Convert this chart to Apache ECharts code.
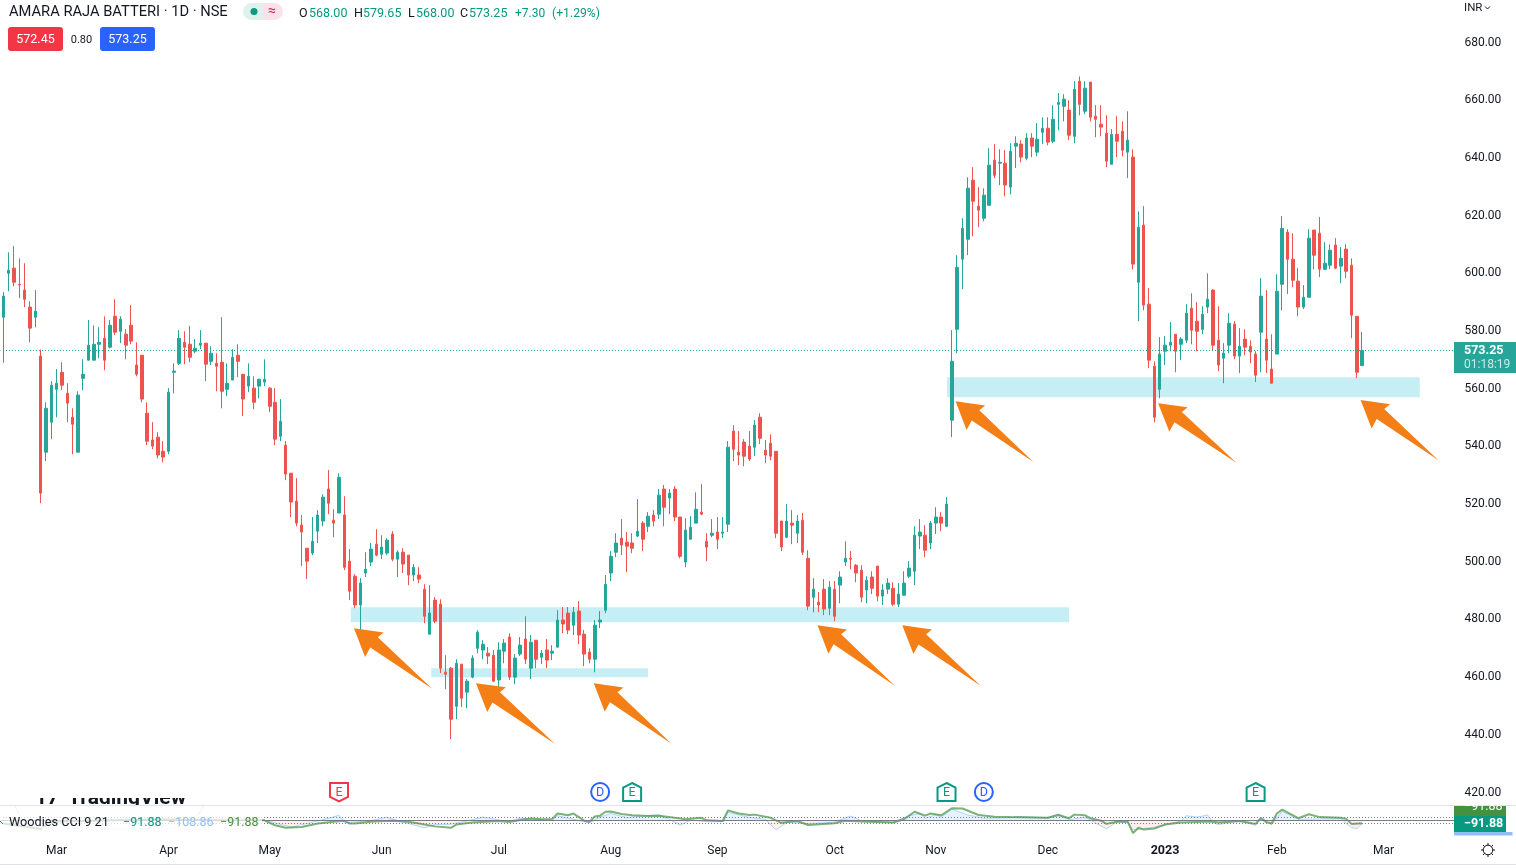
<!DOCTYPE html>
<html><head><meta charset="utf-8">
<style>html,body{margin:0;padding:0;background:#fff}#c{width:1516px;height:868px}</style>
<script src="https://cdn.jsdelivr.net/npm/echarts@6/dist/echarts.min.js"></script>
</head><body><div id="c"></div>
<script>
// [open, close, low, high]
const candles = [
[584.8,592.1,569.0,593.5],[600.0,601.1,593.8,607.3],[601.8,596.9,595.5,609.4],[596.2,596.0,591.4,605.2],[594.2,591.0,588.3,603.5],[588.3,581.0,576.1,590.3],[584.8,586.9,581.3,594.2],[571.3,523.8,520.3,573.6],[538.0,553.2,534.9,555.3],[548.4,561.2,542.5,562.6],
[559.8,561.9,550.1,566.8],[565.7,561.2,559.5,569.2],[558.4,555.0,548.4,561.9],[550.1,547.7,537.3,553.2],[538.0,557.8,538.0,559.1],[563.6,565.0,559.5,570.2],[569.9,575.1,569.9,583.8],[569.9,575.4,569.9,582.0],[575.4,576.1,570.6,581.3],[577.5,569.9,566.4,585.1],
[574.4,582.0,574.0,583.8],[585.1,579.6,578.6,591.0],[579.9,584.1,575.8,585.1],[578.9,575.1,570.2,580.6],[582.0,576.5,575.4,589.0],[568.2,565.0,564.3,576.1],[571.6,556.4,555.3,571.6],[551.5,541.8,540.4,555.3],[542.2,540.1,539.0,548.4],[543.2,537.0,535.9,544.9],
[538.3,536.3,534.5,541.8],[538.3,558.8,537.3,560.2],[565.7,566.1,558.4,568.8],[568.8,577.5,568.2,580.3],[576.1,574.4,568.5,579.9],[575.4,570.9,569.2,581.7],[573.0,574.0,572.3,577.2],[575.1,575.8,573.7,580.3],[575.8,568.5,562.6,575.8],[569.5,572.3,568.2,574.7],
[568.8,567.8,559.1,572.3],[569.2,559.1,553.2,584.8],[559.8,561.9,557.4,568.8],[563.0,570.9,563.0,573.7],[571.6,569.5,564.0,575.4],[565.0,556.4,550.5,565.0],[560.9,564.3,558.8,568.8],[560.2,555.3,552.9,564.3],[560.9,563.3,556.7,563.3],[562.3,563.3,560.9,570.2],
[560.2,553.9,551.9,560.5],[555.3,542.5,540.4,560.2],[543.5,548.7,541.8,556.4],[540.4,530.4,528.3,541.8],[530.7,520.7,515.5,530.7],[521.0,513.4,512.3,529.0],[512.7,510.3,498.5,516.2],[504.7,500.2,494.0,504.7],[503.0,507.1,502.3,515.5],[510.6,516.2,506.5,517.9],
[514.1,522.4,512.3,523.4],[525.2,520.3,516.5,531.8],[514.4,513.4,508.5,518.2],[516.9,529.3,516.9,530.7],[516.2,498.1,497.1,522.7],[500.2,489.8,486.7,504.4],[495.0,485.0,483.9,495.7],[485.0,492.6,474.6,494.3],[496.1,497.4,494.7,503.3],[499.9,504.4,498.5,506.5],
[506.1,502.3,501.9,511.3],[502.6,505.1,500.9,509.2],[503.0,507.5,502.3,508.2],[509.6,500.9,500.2,510.6],[500.9,503.3,494.7,504.0],[503.3,499.2,496.1,504.7],[502.3,495.4,491.9,502.3],[495.4,498.1,493.3,499.2],[495.4,494.0,492.6,498.1],[490.5,481.1,478.7,492.2],
[474.9,482.2,474.9,491.9],[486.7,479.4,478.7,487.7],[485.3,463.1,461.4,487.0],[461.7,461.0,455.8,467.6],[463.1,445.4,438.5,463.5],[449.9,464.8,445.4,466.2],[464.5,452.7,449.6,464.5],[454.8,458.6,449.2,459.3],[460.0,466.6,459.6,467.6],[470.0,475.6,468.3,476.3],
[469.4,471.4,466.2,472.8],[468.3,467.3,464.5,470.4],[467.6,458.6,458.3,469.4],[459.0,469.4,456.5,472.1],[469.0,471.8,464.8,473.2],[473.9,460.0,459.0,475.2],[460.0,466.6,457.6,468.0],[468.0,471.1,467.3,473.9],[473.2,466.2,464.5,481.1],[463.1,472.1,459.3,474.6],
[472.8,466.2,463.1,472.8],[466.9,468.3,464.5,469.4],[469.4,465.9,463.1,473.2],[468.3,469.0,465.9,471.1],[470.4,479.8,470.4,483.2],[479.8,478.4,475.2,484.3],[482.2,476.3,474.9,484.3],[478.0,482.5,474.6,484.3],[482.9,474.6,471.4,486.3],[474.9,468.0,463.8,476.3],
[468.7,466.2,464.8,470.0],[466.2,478.0,461.7,479.8],[479.1,479.8,477.0,482.9],[483.2,492.2,482.2,495.4],[496.1,501.9,493.3,503.7],[503.3,506.5,501.6,509.9],[508.2,505.8,502.3,514.8],[506.8,505.4,496.4,510.3],[506.5,504.7,503.0,509.9],[508.9,510.6,508.5,521.7],
[513.4,507.8,503.7,514.1],[512.3,515.8,510.3,517.2],[516.2,514.1,512.3,517.9],[516.5,523.1,514.8,525.2],[525.2,518.9,512.3,526.6],[522.1,523.8,516.5,525.2],[525.2,515.5,514.1,526.2],[515.5,501.9,501.2,515.5],[499.9,511.0,498.1,515.1],[507.8,512.0,507.8,515.8],
[513.4,518.2,513.4,524.1],[517.2,516.5,516.2,526.9],[507.1,505.1,500.2,509.9],[509.2,509.9,508.5,514.8],[510.3,507.8,504.4,515.5],[509.9,510.3,508.2,515.5],[513.0,539.7,510.3,541.8],[545.3,539.0,534.9,547.4],[538.0,537.0,533.5,545.3],[541.5,536.6,533.1,542.5],
[540.1,535.6,534.9,545.3],[539.7,547.4,536.6,549.1],[550.1,542.8,540.8,551.5],[538.7,537.0,534.2,542.2],[541.1,536.6,535.2,544.2],[538.3,509.9,508.2,538.3],[514.1,505.1,503.7,514.1],[508.5,514.1,508.2,520.0],[513.4,512.7,506.1,517.9],[509.9,514.1,506.5,516.2],
[514.4,503.3,502.3,516.9],[501.2,484.6,483.2,504.0],[487.7,490.5,482.5,494.3],[486.0,485.0,482.5,489.5],[490.5,483.6,481.5,494.0],[483.9,491.2,481.5,493.3],[490.5,481.1,479.4,493.3],[491.9,494.7,485.6,496.7],[499.9,501.2,498.5,507.1],[501.2,500.9,497.4,503.7],
[498.8,496.1,492.9,499.2],[497.1,487.7,486.0,498.8],[490.2,493.6,485.6,495.0],[494.7,490.8,488.8,496.7],[498.5,488.1,486.3,498.5],[488.1,490.2,485.0,492.2],[490.5,492.6,488.8,494.3],[490.8,485.3,484.6,492.9],[485.3,488.8,484.3,492.6],[488.4,492.6,488.4,496.7],
[495.0,497.8,494.3,500.2],[496.7,509.2,491.9,512.3],[508.9,510.3,504.4,514.8],[509.2,504.0,501.6,512.7],[506.5,513.4,504.4,514.1],[513.4,515.5,509.6,518.9],[515.5,513.4,510.6,517.2],[512.3,520.0,512.0,522.4],[549.1,569.5,543.2,580.3],[580.6,602.1,572.3,606.3],
[604.9,615.6,594.5,619.1],[611.8,629.5,606.3,633.3],[632.3,625.0,612.9,636.8],[623.3,621.9,616.0,629.9],[619.1,627.1,618.1,629.5],[623.6,637.5,623.6,643.4],[639.2,634.0,633.0,644.8],[638.2,638.5,630.6,643.0],[638.2,630.6,626.7,642.7],[629.9,642.3,627.4,645.1],
[644.1,645.1,636.5,647.5],[644.8,640.3,638.5,646.2],[639.9,646.9,639.2,648.6],[646.9,644.1,640.3,648.6],[642.0,646.5,640.6,652.1],[648.9,650.3,644.8,654.1],[650.3,645.5,644.4,654.1],[645.8,653.4,645.1,658.3],[658.6,659.3,649.6,662.5],[657.9,660.4,652.7,662.1],
[656.6,647.9,646.2,660.0],[647.5,663.8,645.1,666.6],[666.6,658.6,654.8,668.3],[656.2,664.2,655.2,666.6],[666.3,654.1,652.7,666.3],[654.5,653.4,647.2,658.3],[651.7,650.7,647.5,658.3],[648.6,638.9,636.8,654.8],[637.8,648.2,637.8,650.0],[648.2,645.8,640.3,654.5],
[649.3,642.7,640.6,652.7],[642.0,646.2,633.0,656.2],[640.3,603.2,601.4,643.0],[596.9,616.0,583.4,621.5],[616.7,589.0,587.2,623.3],[589.3,569.9,567.1,594.9],[567.8,550.1,548.4,569.5],[559.8,572.0,556.7,577.9],[573.0,575.1,568.2,578.2],[575.1,576.1,573.0,583.1],
[578.9,573.0,565.7,578.9],[575.4,577.2,569.9,577.9],[576.8,586.2,575.8,589.3],[587.9,580.3,575.4,593.1],[583.4,579.9,573.0,590.0],[580.6,585.8,578.9,588.6],[588.3,591.0,586.2,600.0],[594.2,575.1,573.4,594.5],[576.8,568.2,566.1,588.6],[570.6,572.3,561.9,575.8],
[575.1,582.7,572.3,586.2],[582.4,571.3,570.2,583.4],[571.3,574.7,565.4,581.0],[577.2,574.4,571.6,580.6],[574.7,572.7,568.8,576.8],[572.0,564.7,562.3,573.0],[579.6,592.1,565.7,598.3],[577.2,569.9,565.4,594.2],[566.8,561.9,561.9,578.9],[572.0,593.8,572.0,599.7],
[596.2,615.6,587.2,619.8],[614.3,604.9,592.8,615.3],[604.9,597.6,595.2,613.9],[597.3,588.3,585.1,601.8],[588.3,591.7,587.6,595.9],[591.7,612.2,591.7,615.3],[615.0,606.3,601.4,615.0],[613.9,601.4,598.7,619.5],[601.4,603.5,601.4,610.8],[602.8,608.0,601.4,610.1],
[609.8,601.8,601.4,612.2],[602.5,605.2,596.6,609.1],[608.4,600.7,598.3,610.1],[602.8,585.5,577.5,605.2],[585.1,565.7,563.6,585.1],[568.0,573.25,568.0,579.65]
];
const totalSlots = 273;
const monthSlots = [10,31,50,71,93,114,134,156,175,196,218,239,259];
const monthNames = ['Mar','Apr','May','Jun','Jul','Aug','Sep','Oct','Nov','Dec','2023','Feb','Mar'];
const priceTicks = {min:420,max:680,step:20};
const lastPrice = 573.25;

// support zones: [from bar, to bar, upper price, lower price]
const zones = [[65.2,200.0,484.26,479.06],[80.3,121.0,463.11,459.99],[177.1,265.8,564.0,557.06]];
// arrows: [tip bar, tip price, tail bar, tail price]
const arrows = [
[65.8,476.98,80.5,456.0],[88.7,457.92,103.5,436.9],[110.8,457.92,125.4,436.9],[152.8,478.02,167.3,457.0],
[168.7,478.02,183.4,457.0],[178.7,555.67,193.3,534.6],[216.7,554.98,231.4,534.3],[254.7,556.12,269.3,535.2]
];
// events on the time scale
const eventBars = [63,112,118,177,184,235];
const eventKinds = ['Edown','D','Eup','Eup','D','Eup'];

// Woodies CCI: [bar, value]
const cciMain = [[0,-101],[7,-280],[9,-42],[28,42],[39,18],[49,6],[51,-161],[53,-244],[56,-220],[59,-101],[62,-42],[64,-6],[65,-101],[66,-101],[69,-42],[73,-6],[76,-42],[78,-101],[81,-196],[84,-244],[85,-137],[88,-65],[93,-18],[95,-54],[97,18],[99,65],[101,42],[103,54],[104,232],[106,173],[107,232],[109,-6],[110,-42],[111,137],[112,161],[113,292],[114,303],[116,220],[118,173],[121,149],[123,161],[126,89],[128,42],[131,89],[132,6],[135,-18],[136,339],[138,232],[140,184],[141,196],[144,89],[146,-77],[149,-18],[151,-149],[156,-89],[158,-6],[162,-42],[167,-65],[169,42],[171,292],[173,161],[174,232],[176,173],[178,410],[180,399],[183,184],[186,125],[189,113],[196,89],[198,184],[200,77],[201,196],[203,173],[204,77],[206,-6],[207,-113],[209,-42],[211,-42],[212,-422],[213,-244],[214,-303],[216,-268],[218,-137],[221,-65],[227,-30],[228,-65],[232,-18],[235,-113],[236,77],[237,-54],[238,-101],[239,232],[240,363],[243,77],[245,208],[247,113],[251,89],[252,54],[253,-113],[255,-91.88]];
const cciTurbo = [[0,-120],[7,-260],[9,-60],[28,30],[39,30],[49,6],[54,-220],[59,-18],[63,173],[64,-77],[69,-6],[72,113],[74,-6],[79,-244],[81,-137],[84,-125],[87,-18],[90,113],[93,18],[95,-18],[97,77],[103,-6],[104,161],[109,-42],[110,-77],[112,113],[114,232],[117,101],[123,196],[125,42],[127,-161],[129,18],[132,-42],[135,-42],[136,280],[140,101],[143,42],[145,-315],[147,-65],[151,-101],[156,-54],[159,149],[161,-6],[167,-65],[170,161],[172,232],[173,77],[175,196],[176,113],[178,375],[181,184],[184,77],[189,89],[190,137],[196,89],[198,220],[200,30],[203,113],[207,-280],[209,-42],[211,-65],[212,-315],[216,-220],[221,-18],[222,161],[224,113],[226,184],[227,-77],[228,-137],[232,-18],[235,-161],[236,113],[238,-137],[240,303],[243,42],[247,54],[251,65],[253,-244],[254,-268],[255,-108.86]];
const cciLevels = [100,0,-100];

const FONT = 'Roboto, sans-serif';
const TXT = '#131722', UP = '#26a69a', DOWN = '#ef5350';
const categories = Array.from({length:totalSlots},(_, i)=>{const k=monthSlots.indexOf(i);return k>=0?monthNames[k]:'b'+i;});
const plotLeft = 0.64, plotWidth = 1454.8;
const headShape = [[.2636,.1495],[.2463,.0751],[.2492,-.0531],[.2667,-.161]];

function renderZone(params, api){
  const a = api.coord([api.value(0), api.value(2)]), b = api.coord([api.value(1), api.value(3)]);
  return {type:'rect', shape:{x:a[0],y:a[1],width:b[0]-a[0],height:b[1]-a[1]}, style:{fill:'#c5eff5'}};
}
function renderArrow(params, api){
  const t = api.coord([api.value(0), api.value(1)]), e = api.coord([api.value(2), api.value(3)]);
  const vx=e[0]-t[0], vy=e[1]-t[1];
  const at=(s)=>[t[0]+s[0]*vx+s[1]*vy, t[1]+s[0]*vy-s[1]*vx];
  return {type:'polygon', shape:{points:[t,at(headShape[0]),at(headShape[1]),e,at(headShape[2]),at(headShape[3])]}, style:{fill:'#f57f17'}};
}
function renderEvent(params, api){
  const x = api.coord([api.value(0), 420])[0], kind = eventKinds[params.dataIndex];
  const col = kind==='D' ? '#2962ff' : kind==='Edown' ? '#f23645' : '#089981';
  let shape;
  if(kind==='D') shape={type:'circle',shape:{cx:x,cy:792,r:9},style:{fill:'#fff',stroke:col,lineWidth:2}};
  else if(kind==='Edown') shape={type:'polygon',shape:{points:[[x-9,783],[x+9,783],[x+9,797],[x,801.5],[x-9,797]]},style:{fill:'#fff',stroke:col,lineWidth:2}};
  else shape={type:'polygon',shape:{points:[[x,783],[x+9,787.5],[x+9,801],[x-9,801],[x-9,787.5]]},style:{fill:'#fff',stroke:col,lineWidth:2}};
  return {type:'group',children:[shape,{type:'text',x:x,y:792.5,style:{text:kind==='D'?'D':'E',fill:col,font:'12.5px '+FONT,textAlign:'center',textVerticalAlign:'middle'}}]};
}

const t = (text,x,y,fill,size,extra)=>({type:'text',x,y,z:50,silent:true,style:Object.assign({text,fill,font:(size||13)+'px '+FONT,textVerticalAlign:'middle'},extra||{})});
const r = (x,y,w,h,fill,rad,z)=>({type:'rect',z:z==null?49:z,silent:true,shape:{x,y,width:w,height:h,r:rad||0},style:{fill}});
const seg = (x1,y1,x2,y2,stroke,z)=>({type:'line',z:z==null?50:z,silent:true,shape:{x1,y1,x2,y2},style:{stroke,lineWidth:1}});
const OHLC='#089981';
const sunRays=[[1488,843,1488,845.5],[1488,854.5,1488,857],[1481,850,1483.5,850],[1492.5,850,1495,850],[1483,845,1484.8,846.8],[1491.2,853.2,1493,855],[1483,855,1484.8,853.2],[1491.2,846.8,1493,845]];
const watermark = (text,x)=>Object.assign(t(text,x,799,'#131722',21,{font:'bold 21px '+FONT}),{z:0.5});

const graphics = [
  watermark('TradingView',68),
  watermark('17',35),
  r(0,770,300,28,'#fff',0,1),
  r(0,806,300,12,'#fff',0,1),
  {type:'polyline',z:48,silent:true,shape:{points:[[15,806],[20,815],[32,824],[50,828],[168,828],[186,824],[198,815],[203,806]],smooth:.4},style:{fill:'none',stroke:'#eef0f4',lineWidth:1}},
  seg(0,805.5,1516,805.5,'#e0e3eb',47),
  seg(0,864.5,1516,864.5,'#e0e3eb',47),
  t('AMARA RAJA BATTERI · 1D · NSE',9,12,TXT,14.7),
  r(243,3,20,17,'#dff1ee',[9,0,0,9]), r(263,3,20,17,'#fbe2ea',[0,9,9,0]),
  {type:'circle',z:50,silent:true,shape:{cx:254,cy:11.5,r:3.5},style:{fill:'#089981'}},
  t('≈',272,11,'#d81b60',14,{textAlign:'center'}),
  t('O',299,13.5,TXT,12.5),t('568.00',309,13.5,OHLC,12.5),
  t('H',354,13.5,TXT,12.5),t('579.65',363,13.5,OHLC,12.5),
  t('L',408,13.5,TXT,12.5),t('568.00',416,13.5,OHLC,12.5),
  t('C',460,13.5,TXT,12.5),t('573.25',469,13.5,OHLC,12.5),
  t('+7.30',515,13.5,OHLC,12),t('(+1.29%)',552,13.5,OHLC,12.2),
  r(8,27,55,24,'#f23645',3),t('572.45',35.5,40,'#fff',12.5,{textAlign:'center'}),
  t('0.80',81.5,40,TXT,11,{textAlign:'center'}),
  r(100,27,55,24,'#2962ff',3),t('573.25',127.5,40,'#fff',12.5,{textAlign:'center'}),
  t('INR',1464,8,TXT,11.5),
  {type:'polyline',z:50,silent:true,shape:{points:[[1485,6.5],[1487.5,9],[1490,6.5]]},style:{fill:'none',stroke:TXT,lineWidth:1}},
  r(1454,342,62,31,'#26a69a',0),
  t('573.25',1464,351,'#fff',12.5,{font:'bold 12.5px '+FONT}),
  t('01:18:19',1464,365,'#c9ece8',12),
  r(1454,806,52,10,'#43923f',0),
  t('−91.88',1464,807,'#fff',12.5),
  r(1454,816,52,16,'#089981',0),
  t('−91.88',1464,824,'#fff',12.5,{font:'bold 12.5px '+FONT}),
  r(1454,832,58.5,3.4,'#90bff9',0),
  r(0,815,262,15,'rgba(255,255,255,.72)',0,48),
  seg(0,821,3,824,'#666'),
  t('Woodies CCI 9 21',9,823,TXT,12.7),
  t('−91.88',123,823,'#089981',12.5),
  t('−108.86',168,823,'#90bff9',12.5),
  t('−91.88',220,823,'#43923f',12.5),
  {type:'circle',z:50,silent:true,shape:{cx:1488,cy:850,r:4.8},style:{fill:'none',stroke:TXT,lineWidth:1}}
].concat(sunRays.map(s=>seg(s[0],s[1],s[2],s[3],TXT)));

const option = {
  animation:false,
  backgroundColor:'#fff',
  textStyle:{fontFamily:FONT},
  grid:[
    {left:plotLeft,width:plotWidth,top:42.6,height:749.9},
    {left:plotLeft,width:plotWidth,top:806.5,height:28}
  ],
  xAxis:[
    {type:'category',gridIndex:0,data:categories,show:false},
    {type:'value',gridIndex:0,min:-0.5,max:totalSlots-0.5,show:false},
    {type:'category',gridIndex:1,data:categories,axisLine:{show:false},axisTick:{show:false},splitLine:{show:false},
      axisLabel:{interval:(i)=>monthSlots.includes(i),margin:10,fontSize:12,color:TXT,fontFamily:FONT,
        formatter:(v)=>v==='2023'?'{b|2023}':v,rich:{b:{fontWeight:'bold',fontSize:12.5,color:TXT,fontFamily:FONT}}}},
    {type:'value',gridIndex:1,min:-0.5,max:totalSlots-0.5,show:false}
  ],
  yAxis:[
    {type:'value',gridIndex:0,position:'right',min:priceTicks.min,max:priceTicks.max,interval:priceTicks.step,
      axisLine:{show:false},axisTick:{show:false},splitLine:{show:false},
      axisLabel:{margin:9,fontSize:12,color:TXT,fontFamily:FONT,padding:[1.4,0,0,0],formatter:(v)=>v.toFixed(2)}},
    {type:'value',gridIndex:1,min:-467,max:467,show:false}
  ],
  series:[
    {type:'custom',name:'zones',xAxisIndex:1,yAxisIndex:0,z:1.5,silent:true,renderItem:renderZone,data:zones},
    {type:'candlestick',name:'price',xAxisIndex:0,yAxisIndex:0,z:3,barWidth:3,silent:true,data:candles,
      itemStyle:{color:UP,color0:DOWN,borderColor:UP,borderColor0:DOWN,borderWidth:1},
      markLine:{silent:true,symbol:'none',animation:false,label:{show:false},lineStyle:{color:UP,type:[1,2],dashOffset:0.64,width:1},data:[{yAxis:lastPrice}]}},
    {type:'custom',name:'arrows',xAxisIndex:1,yAxisIndex:0,z:6,silent:true,renderItem:renderArrow,data:arrows},
    {type:'custom',name:'events',xAxisIndex:1,yAxisIndex:0,z:7,silent:true,renderItem:renderEvent,clip:false,data:eventBars.map(b=>[b])},
    {type:'line',name:'cciPos',xAxisIndex:3,yAxisIndex:1,z:2,silent:true,symbol:'none',lineStyle:{width:0},areaStyle:{color:'rgba(33,150,243,.16)',origin:0},data:cciTurbo.map(d=>[d[0],Math.max(d[1],0)])},
    {type:'line',name:'cciNeg',xAxisIndex:3,yAxisIndex:1,z:2,silent:true,symbol:'none',lineStyle:{width:0},areaStyle:{color:'rgba(255,82,82,.13)',origin:0},data:cciTurbo.map(d=>[d[0],Math.min(d[1],0)])},
    {type:'line',name:'turbo',xAxisIndex:3,yAxisIndex:1,z:3,silent:true,symbol:'none',lineStyle:{width:1,color:'#90bff9',opacity:.65},data:cciTurbo,
      markLine:{silent:true,symbol:'none',animation:false,label:{show:false},
        data:cciLevels.map(v=>({yAxis:v,lineStyle:v===0?{color:'#787b86',type:'solid',width:1}:{color:'#787b86',type:[1,2],dashOffset:0.64,width:1}}))}},
    {type:'line',name:'cci',xAxisIndex:3,yAxisIndex:1,z:4,silent:true,symbol:'none',lineStyle:{width:2,color:'#43923f',opacity:.7},data:cciMain}
  ],
  graphic:{elements:graphics}
};
echarts.init(document.getElementById('c'),null,{renderer:'canvas'}).setOption(option);
</script></body></html>
